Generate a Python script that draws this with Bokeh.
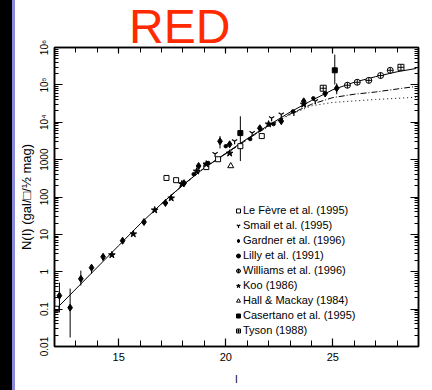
import numpy as np
from bokeh.plotting import figure
from bokeh.models import (FixedTicker, CustomJSTickFormatter, LogAxis, LinearAxis,
                          Legend, LegendItem, Div)
from bokeh.layouts import row, column
from bokeh.embed import file_html
from bokeh.resources import INLINE

# ---------------- data (I magnitude, log10 N per sq.deg per 0.5 mag) ----------------
lefevre_mag = [12.09, 17.23, 17.68, 19.09, 19.64, 20.68, 21.68]
lefevre_logn = [-0.99, 2.51, 2.45, 2.80, 3.01, 3.36, 3.63]

smail_mag = [19.50, 20.41, 21.23, 22.14, 22.59, 23.18, 24.18]
smail_logn = [3.15, 3.49, 3.71, 4.11, 4.21, 4.25, 4.56]

gardner_mag = [12.23, 12.73, 13.23, 13.73, 14.27, 15.18, 16.18, 17.18, 18.05, 18.73,
               19.73, 20.18, 21.59, 22.59, 23.64, 24.64, 25.18]
gardner_logn = [-0.64, -0.96, -0.19, 0.11, 0.40, 0.83, 1.33, 1.84, 2.37, 2.83,
                3.49, 3.41, 3.84, 4.03, 4.56, 4.77, 4.91]
gardner_lo = [-1.09, -1.76, -0.37, -0.05, 0.29, 0.75, 1.26, 1.78, 2.31, 2.78,
              3.30, 3.36, 3.79, 3.98, 4.51, 4.72, 4.75]
gardner_hi = [-0.29, -0.45, 0.03, 0.16, 0.48, 0.91, 1.38, 1.89, 2.42, 2.88,
              3.63, 3.46, 3.89, 4.08, 4.61, 4.82, 5.04]

lilly_mag = [18.50, 19.18, 20.00, 21.14, 22.23, 23.14, 24.09]
lilly_logn = [2.61, 2.91, 3.36, 3.55, 3.95, 4.29, 4.64]

williams_mag = [25.68, 26.14, 26.68, 27.23, 27.68]
williams_logn = [4.99, 5.07, 5.12, 5.25, 5.39]

koo_mag = [14.68, 15.68, 16.68, 17.45, 17.95, 18.64, 19.09, 20.18, 22.00, 23.64]
koo_logn = [0.45, 1.01, 1.65, 1.97, 2.35, 2.69, 2.88, 3.17, 3.95, 4.48]

hall_mag = [20.23]
hall_logn = [2.83]

casertano_mag = [20.68, 25.09]
casertano_logn = [3.71, 5.39]
casertano_lo = [2.96, 5.01]
casertano_hi = [4.16, 5.81]

tyson_mag = [24.55, 28.18]
tyson_logn = [4.91, 5.47]

model_mag = [12, 13, 14, 15, 16, 17, 18, 19, 20, 21, 22, 23, 24, 25, 26, 27, 28, 28.9]
model_solid_logn = [-1.04, -0.46, 0.12, 0.70, 1.28, 1.82, 2.32, 2.78, 3.17, 3.56,
                    3.92, 4.27, 4.58, 4.87, 5.07, 5.22, 5.35, 5.44]
model_b_mag = [17, 18, 19, 20, 21, 22, 23, 24, 25, 26, 27, 28, 28.9]
model_dashdot_logn = [1.82, 2.32, 2.78, 3.16, 3.54, 3.90, 4.22, 4.48, 4.66, 4.75, 4.81, 4.89, 4.96]
model_dotted_logn = [1.82, 2.32, 2.77, 3.15, 3.53, 3.89, 4.20, 4.44, 4.53, 4.57, 4.61, 4.64, 4.67]

x_tick_values = [15, 20, 25]
y_tick_values = [1e-2, 1e-1, 1, 10, 100, 1000, 1e4, 1e5, 1e6]
y_tick_labels = ["0.01", "0.1", "1", "10", "100", "1000", "10\u2074", "10\u2075", "10\u2076"]

legend_labels = ["Le F\u00e8vre et al. (1995)", "Smail et al. (1995)", "Gardner et al. (1996)",
                 "Lilly et al. (1991)", "Williams et al. (1996)", "Koo (1986)",
                 "Hall & Mackay (1984)", "Casertano et al. (1995)", "Tyson (1988)"]

heading = "RED"


def lin(v):
    return (10.0 ** np.asarray(v, dtype=float)).tolist()


FONT = "Liberation Sans"

p = figure(width=417, height=351, x_range=(12, 29), y_range=(0.01, 1e6),
           y_axis_type="log", output_backend="svg", toolbar_location=None,
           min_border_left=32, min_border_right=14, min_border_top=8, min_border_bottom=44,
           background_fill_color="white", border_fill_alpha=0, margin=(-17, 0, 0, 0))
p.grid.visible = False
p.outline_line_color = "black"
p.outline_line_width = 1.5

# models
p.line(model_mag, lin(model_solid_logn), line_color="black", line_width=1)
p.line(model_b_mag, lin(model_dashdot_logn), line_color="black", line_width=1, line_dash="6 2 1 2")
p.line(model_b_mag, lin(model_dotted_logn), line_color="black", line_width=1, line_dash="1 3")

# error bars
p.segment(gardner_mag, lin(gardner_lo), gardner_mag, lin(gardner_hi), line_color="black", line_width=1)
p.segment(casertano_mag, lin(casertano_lo), casertano_mag, lin(casertano_hi), line_color="black", line_width=1)

r_lef = p.scatter(lefevre_mag, lin(lefevre_logn), marker="square", size=5, line_color="black", fill_color="white", line_width=1)
r_sma = p.scatter(smail_mag, lin(smail_logn), marker="y", size=6, line_color="black", line_width=1.2)
r_gar = p.scatter(gardner_mag, lin(gardner_logn), marker="diamond", size=7, line_color="black", fill_color="black")
r_lil = p.scatter(lilly_mag, lin(lilly_logn), marker="circle", size=3.5, line_color="black", fill_color="black")
r_wil = p.scatter(williams_mag, lin(williams_logn), marker="circle_cross", size=6, line_color="black", fill_color="white", line_width=1)
r_koo = p.scatter(koo_mag, lin(koo_logn), marker="star", size=7, line_color="black", fill_color="black")
r_hal = p.scatter(hall_mag, lin(hall_logn), marker="triangle", size=6, line_color="black", fill_color="white", line_width=1)
r_cas = p.scatter(casertano_mag, lin(casertano_logn), marker="square", size=5, line_color="black", fill_color="black")
r_tys = p.scatter(tyson_mag, lin(tyson_logn), marker="square_cross", size=6, line_color="black", fill_color="white", line_width=1)

renderers = [r_lef, r_sma, r_gar, r_lil, r_wil, r_koo, r_hal, r_cas, r_tys]
legend = Legend(items=[LegendItem(label=l, renderers=[r]) for l, r in zip(legend_labels, renderers)],
                location=(179, 10), orientation="vertical", spacing=3, padding=0, margin=0,
                glyph_width=10, glyph_height=11, label_height=11, label_standoff=0,
                label_text_font=FONT, label_text_font_size="11px", label_text_color="black",
                border_line_alpha=0, background_fill_alpha=0)
p.add_layout(legend)

# axes
x_minor = list(range(12, 30))
y_minor = [k * 10.0 ** e for e in range(-2, 6) for k in range(2, 10)]
xt = FixedTicker(ticks=x_tick_values, minor_ticks=x_minor)
yt = FixedTicker(ticks=y_tick_values, minor_ticks=y_minor)
yfmt = CustomJSTickFormatter(args=dict(labels=y_tick_labels),
                             code="const e = Math.round(Math.log10(tick)); return labels[e + 2];")
blank = CustomJSTickFormatter(code="return '';")


def style(ax, major, minor):
    ax.axis_line_color = "black"
    ax.axis_line_width = 1.5
    ax.major_tick_in = major
    ax.major_tick_out = 0
    ax.minor_tick_in = minor
    ax.minor_tick_out = 0
    ax.major_tick_line_color = "black"
    ax.minor_tick_line_color = "black"
    ax.major_tick_line_width = 1.2
    ax.minor_tick_line_width = 1
    ax.major_label_text_color = "black"
    ax.axis_label_text_color = "black"


xa = p.xaxis[0]
xa.ticker = xt
style(xa, 8, 6)
xa.major_label_text_font = FONT
xa.major_label_text_font_size = "11px"
xa.major_label_standoff = 6
xa.axis_label = "I"
xa.axis_label_text_font = FONT
xa.axis_label_text_font_size = "10px"
xa.axis_label_text_font_style = "normal"
xa.axis_label_standoff = 10

ya = p.yaxis[0]
ya.ticker = yt
ya.formatter = yfmt
style(ya, 8, 4)
ya.major_label_orientation = "vertical"
ya.major_label_text_font = FONT
ya.major_label_text_font_size = "10px"
ya.major_label_standoff = 5
ya.axis_label = "N(I) (gal/\u25a1/\u00bd mag)"
ya.axis_label_text_font = FONT
ya.axis_label_text_font_size = "13px"
ya.axis_label_text_font_style = "normal"
ya.axis_label_standoff = 2

top = LinearAxis(ticker=FixedTicker(ticks=x_tick_values, minor_ticks=x_minor),
                 formatter=blank, major_label_standoff=0)
style(top, 6, 5)
p.add_layout(top, "above")
right = LogAxis(ticker=FixedTicker(ticks=y_tick_values, minor_ticks=y_minor),
                formatter=blank, major_label_standoff=0)
style(right, 8, 4)
p.add_layout(right, "right")

title_div = Div(
    text=('<div style="position:relative; left:114px; top:0px; font-family:\'Liberation Sans\'; '
          'font-size:48px; line-height:54px; height:54px; color:#ff2a00; white-space:nowrap;">%s</div>' % heading),
    width=417, height=56, margin=0)

strip_black = Div(width=12, height=390, margin=0, styles={"background-color": "#000000"})
strip_blue = Div(width=3, height=390, margin=0, styles={"background-color": "#8a8ad8"})
layout = row(strip_black, strip_blue, column(title_div, p, spacing=0), spacing=0)

with open("out.html", "w", encoding="utf-8") as f:
    f.write(file_html(layout, INLINE))
